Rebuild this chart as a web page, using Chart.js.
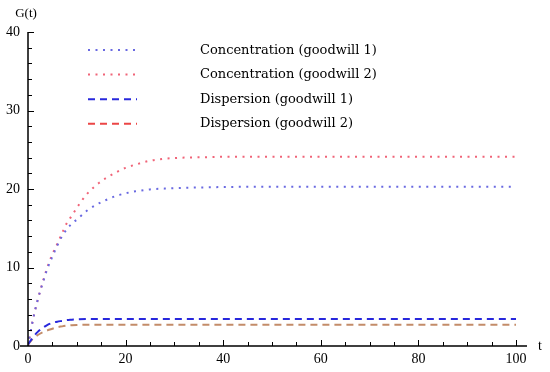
<!DOCTYPE html>
<html lang="en">
	<head>
		<meta charset="utf-8">
		<title>Goodwill G(t)</title>
		<script src="https://cdnjs.cloudflare.com/ajax/libs/Chart.js/4.4.0/chart.umd.min.js"></script>
		<style>
			html, body { margin: 0; padding: 0; background: #fff; }
			canvas { display: block; }
		</style>
	</head>
	<body>
		<canvas id="goodwill" width="550" height="372"></canvas>
		<script>
			// time points
			const tValues = [0, 1, 2, 3, 4, 5, 6, 7, 8, 9, 10, 12, 14, 16, 18, 20, 22, 25, 28, 32, 36, 40, 50, 60, 70, 80, 90, 100]
			const concentration1 = [0, 3.3, 5.9, 8.0, 9.9, 11.4, 12.8, 14.0, 14.9, 15.6, 16.1, 17.2, 18.0, 18.6, 19.1, 19.45, 19.7, 19.95, 20.05, 20.15, 20.2, 20.25, 20.3, 20.3, 20.3, 20.3, 20.3, 20.3]
			const concentration2 = [0, 3.3, 5.9, 8.1, 10.1, 11.7, 13.0, 14.4, 15.7, 16.6, 17.6, 19.3, 20.5, 21.4, 22.1, 22.7, 23.1, 23.6, 23.85, 24.0, 24.05, 24.1, 24.1, 24.1, 24.1, 24.1, 24.1, 24.1]
			const dispersion1 = [0.2, 1.1, 1.8, 2.3, 2.7, 2.95, 3.1, 3.2, 3.3, 3.35, 3.4, 3.44, 3.45, 3.45, 3.45, 3.45, 3.45, 3.45, 3.45, 3.45, 3.45, 3.45, 3.45, 3.45, 3.45, 3.45, 3.45, 3.45]
			const dispersion2 = [0.2, 0.9, 1.4, 1.75, 2.0, 2.2, 2.4, 2.5, 2.6, 2.65, 2.68, 2.7, 2.7, 2.7, 2.7, 2.7, 2.7, 2.7, 2.7, 2.7, 2.7, 2.7, 2.7, 2.7, 2.7, 2.7, 2.7, 2.7]

			const seriesLabels = ["Concentration (goodwill 1)", "Concentration (goodwill 2)", "Dispersion (goodwill 1)", "Dispersion (goodwill 2)"]
			const xTickValues = [0, 20, 40, 60, 80, 100]
			const yTickValues = [0, 10, 20, 30, 40]

			const serif = "'Liberation Serif', 'DejaVu Serif', serif"
			const wideSerif = "'DejaVu Serif', serif"
			const dotted = [2, 5.5]
			const dashed = [7, 5]

			function points(ys) {
				return tValues.map((t, i) => ({ x: t, y: ys[i] }))
			}

			// axes, inward ticks, axis titles and the legend, all placed through the scales
			const framePlugin = {
				id: "frame",
				afterDatasetsDraw(chart) {
					const ctx = chart.ctx
					const xs = chart.scales.x
					const ys = chart.scales.y
					const x0 = xs.getPixelForValue(0)
					const y0 = ys.getPixelForValue(0)
					ctx.save()
					ctx.strokeStyle = "#000"
					ctx.lineWidth = 1.5
					ctx.beginPath()
					ctx.moveTo(x0 - 8, y0)
					ctx.lineTo(xs.getPixelForValue(100) + 11, y0)
					ctx.moveTo(x0, y0)
					ctx.lineTo(x0, ys.getPixelForValue(40))
					ctx.stroke()

					ctx.lineWidth = 1
					ctx.beginPath()
					for (let v = 2; v <= 40; v += 2) {
						const y = Math.round(ys.getPixelForValue(v)) + 0.5
						const len = v % 10 == 0 ? 6 : 4
						ctx.moveTo(x0, y)
						ctx.lineTo(x0 + len, y)
					}
					for (let v = 5; v <= 100; v += 5) {
						const x = Math.round(xs.getPixelForValue(v)) + 0.5
						const len = v % 20 == 0 ? 6 : 4
						ctx.moveTo(x, y0)
						ctx.lineTo(x, y0 - len)
					}
					ctx.stroke()

					ctx.fillStyle = "#000"
					ctx.font = "13px " + serif
					ctx.textAlign = "center"
					ctx.textBaseline = "middle"
					ctx.fillText("G(t)", x0 - 2, ys.getPixelForValue(40) - 18)
					ctx.font = "14px " + serif
					ctx.fillText("t", xs.getPixelForValue(100) + 24, y0)

					// legend
					ctx.font = "13px " + wideSerif
					ctx.textAlign = "left"
					ctx.textBaseline = "alphabetic"
					chart.data.datasets.forEach((ds, i) => {
						const y = 50 + i * 24.6
						ctx.strokeStyle = ds.legendColor || ds.borderColor
						ctx.lineWidth = 2
						ctx.setLineDash(ds.borderDash)
						ctx.beginPath()
						ctx.moveTo(88, y)
						ctx.lineTo(137, y)
						ctx.stroke()
						ctx.setLineDash([])
						ctx.fillText(ds.label, 200, y + 3.5)
					})
					ctx.restore()
				}
			}

			new Chart(document.getElementById("goodwill"), {
				type: "line",
				data: {
					datasets: [{
						label: seriesLabels[0],
						data: points(concentration1),
						borderColor: "rgb(105, 105, 225)",
						borderDash: dotted
					}, {
						label: seriesLabels[1],
						data: points(concentration2),
						borderColor: "rgb(240, 100, 120)",
						borderDash: dotted
					}, {
						label: seriesLabels[2],
						data: points(dispersion1),
						borderColor: "rgb(40, 40, 220)",
						borderDash: dashed
					}, {
						label: seriesLabels[3],
						data: points(dispersion2),
						borderColor: "rgb(195, 140, 105)",
						legendColor: "rgb(235, 70, 70)",
						borderDash: dashed
					}]
				},
				options: {
					responsive: false,
					animation: false,
					devicePixelRatio: 1,
					layout: { padding: { left: 0, top: 32, right: 34, bottom: 0 } },
					elements: {
						point: { radius: 0 },
						line: { borderWidth: 2, cubicInterpolationMode: "monotone", fill: false }
					},
					plugins: {
						legend: { display: false },
						tooltip: { enabled: false }
					},
					scales: {
						x: {
							type: "linear",
							min: 0,
							max: 100,
							border: { display: false },
							grid: { display: false, drawTicks: false },
							afterBuildTicks: s => { s.ticks = xTickValues.map(v => ({ value: v })) },
							afterFit: s => { s.height = 26 },
							ticks: { color: "#000", padding: 5, font: { family: serif, size: 14 } }
						},
						y: {
							min: 0,
							max: 40,
							border: { display: false },
							grid: { display: false, drawTicks: false },
							afterBuildTicks: s => { s.ticks = yTickValues.map(v => ({ value: v })) },
							afterFit: s => { s.width = 28 },
							ticks: { color: "#000", padding: 8, font: { family: serif, size: 14 } }
						}
					}
				},
				plugins: [framePlugin]
			})
		</script>
	</body>
</html>
